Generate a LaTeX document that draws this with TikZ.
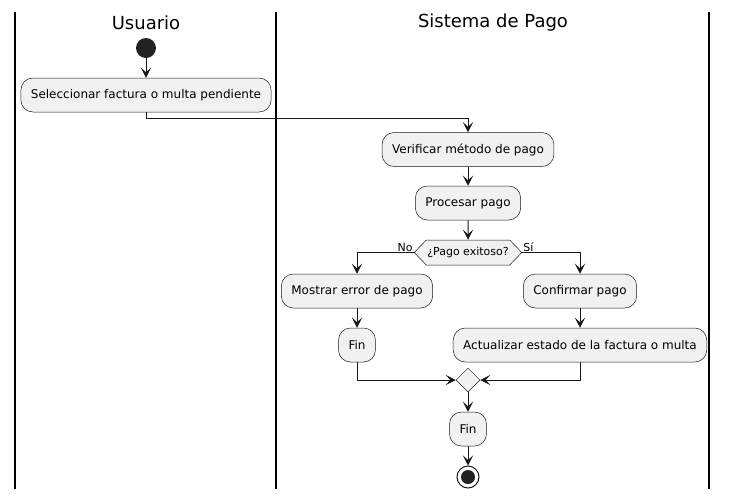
\documentclass[tikz,border=0pt]{standalone}
\usepackage{fontspec}
\setsansfont{DejaVu Sans}
\usetikzlibrary{arrows.meta,shapes.geometric,shapes.symbols}
\definecolor{ink}{HTML}{181818}
\definecolor{boxfill}{HTML}{F1F1F1}
\definecolor{dot}{HTML}{222222}

\begin{document}
\begin{tikzpicture}[
  x=1pt, y=-1pt,
  font=\sffamily\fontsize{12}{14}\selectfont, >={Stealth[length=10pt, width=10pt, inset=4.5pt]},
  act/.style={draw=ink, rounded corners=12pt, fill=boxfill, minimum height=34pt, inner xsep=10pt, line width=0.5pt},
  check/.style={draw=ink, fill=boxfill, shape=signal, signal to=west and east, signal pointer angle=92, minimum height=25pt, minimum width=106pt, inner sep=1pt, line width=0.5pt, font=\sffamily\fontsize{11}{13}\selectfont},
  merge/.style={draw=ink, fill=boxfill, diamond, minimum size=24pt, inner sep=0pt, line width=0.5pt},
  lane/.style={font=\sffamily\fontsize{18}{20}\selectfont},
  note/.style={font=\sffamily\fontsize{11}{13}\selectfont, inner sep=1pt},
  arr/.style={->, draw=ink, line width=1pt}]
\useasboundingbox (0,0) rectangle (729,499);
% swimlanes
\draw[line width=1.2pt] (15,12) -- (15,489) (276,12) -- (276,489) (709,12) -- (709,489);
\node[lane] (tUsr) at (146,23) {Usuario};
\node[lane] (tSys) at (493,23) {Sistema de Pago};
% usuario
\node[circle, fill=dot, minimum size=20pt, inner sep=0pt] (start) at (146,48) {};
\node[act] (sel) at (146,95) {Seleccionar factura o multa pendiente};
\draw[arr] (start) -- (sel);
% sistema de pago
\node[act] (ver) at (468,149.5) {Verificar método de pago};
\draw[arr] (sel.south) -- ++(0,6) -| (ver.north);
\node[act] (proc) at (468,203) {Procesar pago};
\draw[arr] (ver) -- (proc);
\node[check] (chk) at (468,252.5) {¿Pago exitoso?};
\draw[arr] (proc) -- (chk);
\node[act] (err) at (357,291) {Mostrar error de pago};
\node[act] (fin1) at (357,345) {Fin};
\node[act] (conf) at (580,291) {Confirmar pago};
\node[act] (upd) at (580,345) {Actualizar estado de la factura o multa};
\draw[arr] (chk.west) -| (err.north);
\node[note, anchor=south east] (no) at (chk.west) {No};
\draw[arr] (chk.east) -| (conf.north);
\node[note, anchor=south west] (si) at (chk.east) {Sí};
\draw[arr] (err) -- (fin1);
\draw[arr] (conf) -- (upd);
\node[merge] (mrg) at (468,380) {};
\draw[arr] (fin1.south) |- (mrg.west);
\draw[arr] (upd.south) |- (mrg.east);
\node[act] (fin2) at (468,429) {Fin};
\draw[arr] (mrg) -- (fin2);
\node[circle, draw=ink, line width=1pt, minimum size=22pt, inner sep=0pt] (stop) at (468,477) {};
\fill[dot] (stop.center) circle (7pt);
\draw[arr] (fin2) -- (stop);
\end{tikzpicture}
\end{document}
